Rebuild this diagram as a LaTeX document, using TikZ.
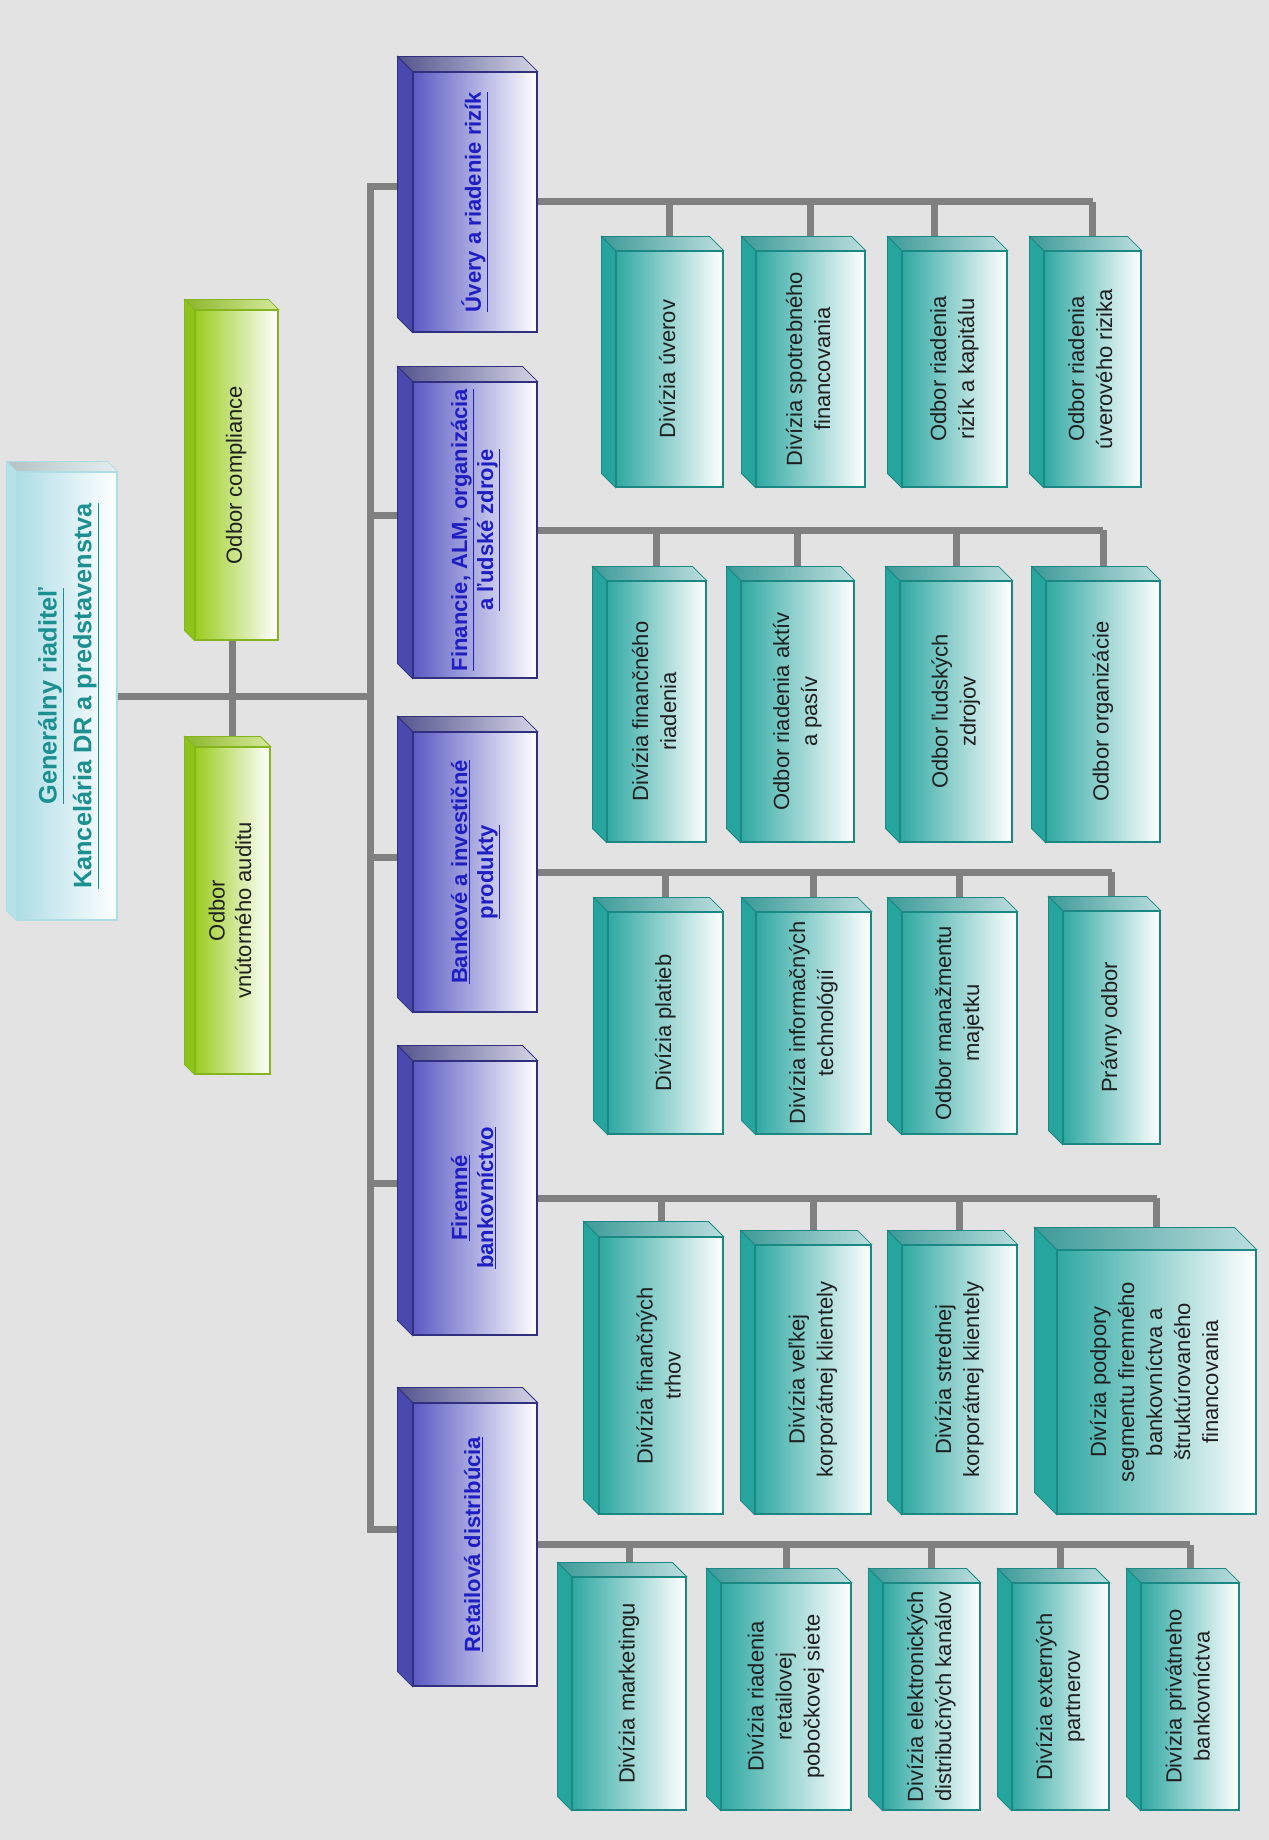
\documentclass[tikz,border=0pt]{standalone}
\usepackage{fontspec}
\setmainfont{Liberation Sans}
\usepackage{graphicx}
\usetikzlibrary{calc}
\pgfdeclarelayer{background}
\pgfsetlayers{background,main}

\definecolor{bgGray}{HTML}{E3E3E3}
\definecolor{lineGray}{HTML}{808080}
\definecolor{blueL}{HTML}{5A5AC4}
\definecolor{blueSide}{HTML}{4A4AAE}
\definecolor{blueTopL}{HTML}{54548E}
\definecolor{blueTopR}{HTML}{D4D4E6}
\definecolor{blueEdge}{HTML}{30307E}
\definecolor{blueTxt}{HTML}{1E1EC4}
\definecolor{tealL}{HTML}{2FA8A2}
\definecolor{tealSide}{HTML}{26A49E}
\definecolor{tealTopL}{HTML}{3C9A98}
\definecolor{tealTopR}{HTML}{BCDEDE}
\definecolor{tealEdge}{HTML}{1B8884}
\definecolor{greenL}{HTML}{9ACC1E}
\definecolor{greenSide}{HTML}{8EC41A}
\definecolor{greenTopL}{HTML}{8CB62A}
\definecolor{greenTopR}{HTML}{D6EA9C}
\definecolor{greenEdge}{HTML}{86B41C}
\definecolor{titleL}{HTML}{AEDDE6}
\definecolor{titleSide}{HTML}{B6E2EA}
\definecolor{titleTopL}{HTML}{B4C2C4}
\definecolor{titleTopR}{HTML}{E6EEEE}
\definecolor{titleTxt}{HTML}{1C9090}
\definecolor{textDark}{HTML}{202020}

% rotated label, lines separated by \\
\newcommand{\vtext}[1]{\rotatebox{90}{\begin{tabular}{@{}c@{}}#1\end{tabular}}}
% depth faces of a box: node, depth, top face left/right colour, side colour, edge colour
\newcommand{\sides}[6]{%
  \path[draw=#6, line width=0.6pt, left color=#3, right color=#4] (#1.north west) -- ++(-#2,-#2) -- ($(#1.north east)+(-#2,-#2)$) -- (#1.north east) -- cycle;
  \path[draw=#6, line width=0.6pt, fill=#5] (#1.north west) -- ++(-#2,-#2) -- ($(#1.south west)+(-#2,-#2)$) -- (#1.south west) -- cycle;}

\tikzset{
  facebox/.style={rectangle, inner sep=0pt, draw=#1, line width=0.8pt},
  titlebox/.style={facebox=titleL, left color=titleL, right color=white, text=titleTxt, font=\fontsize{19}{26}\selectfont\bfseries},
  greenbox/.style={facebox=greenEdge, left color=greenL, right color=white, text=textDark, font=\fontsize{16.5}{20}\selectfont},
  bluebox/.style={facebox=blueEdge, left color=blueL, right color=white, text=blueTxt, font=\fontsize{16.5}{19.5}\selectfont\bfseries},
  tealbox/.style={facebox=tealEdge, left color=tealL, right color=white, text=textDark, font=\fontsize{16.5}{21}\selectfont},
  conn/.style={draw=lineGray, line width=5.25pt}
}

\begin{document}
\begin{tikzpicture}[x=0.75pt,y=0.75pt,yscale=-1,xscale=1]
\useasboundingbox (0,0) rectangle (1269,1840);

% Title and staff boxes
\node[titlebox, minimum width=75pt, minimum height=336pt] (title) at (67,696) {\vtext{\underline{Generálny riaditeľ}\\\underline{Kancelária DR a predstavenstva}}};
\node[greenbox, minimum width=62.25pt, minimum height=247.5pt] (comp) at (236.5,475) {\vtext{Odbor compliance}};
\node[greenbox, minimum width=56.25pt, minimum height=245.25pt] (audit) at (232.5,910.5) {\vtext{Odbor\\vnútorného auditu}};
\sides{title}{10}{titleTopL}{titleTopR}{titleSide}{titleL}
\sides{comp}{10}{greenTopL}{greenTopR}{greenSide}{greenEdge}
\sides{audit}{10}{greenTopL}{greenTopR}{greenSide}{greenEdge}

% Blue boxes
\node[bluebox, minimum width=93pt, minimum height=195pt] (bl1) at (475,202) {\vtext{\underline{Úvery a riadenie rizík}}};
\node[bluebox, minimum width=93pt, minimum height=222pt] (bl2) at (475,530) {\vtext{\underline{Financie, ALM, organizácia}\\\underline{a ľudské zdroje}}};
\node[bluebox, minimum width=93pt, minimum height=210pt] (bl3) at (475,872) {\vtext{\underline{Bankové a investičné}\\\underline{produkty}}};
\node[bluebox, minimum width=93pt, minimum height=205.5pt] (bl4) at (475,1198) {\vtext{\underline{Firemné}\\\underline{bankovníctvo}}};
\node[bluebox, minimum width=93pt, minimum height=212.25pt] (bl5) at (475,1544.5) {\vtext{\underline{Retailová distribúcia}}};
\foreach \i in {1,...,5} {\sides{bl\i}{15}{blueTopL}{blueTopR}{blueSide}{blueEdge}}

% Teal boxes, row 1
\node[tealbox, minimum width=80.25pt, minimum height=177pt] (t11) at (669.5,369) {\vtext{Divízia úverov}};
\node[tealbox, minimum width=81.75pt, minimum height=177pt] (t12) at (810.5,369) {\vtext{Divízia spotrebného\\financovania}};
\node[tealbox, minimum width=78.75pt, minimum height=177pt] (t13) at (954.5,369) {\vtext{Odbor riadenia\\rizík a kapitálu}};
\node[tealbox, minimum width=72.75pt, minimum height=177pt] (t14) at (1092.5,369) {\vtext{Odbor riadenia\\úverového rizika}};
% row 2
\node[tealbox, minimum width=74.25pt, minimum height=195.75pt] (t21) at (656.5,711.5) {\vtext{Divízia finančného\\riadenia}};
\node[tealbox, minimum width=84.75pt, minimum height=195.75pt] (t22) at (797.5,711.5) {\vtext{Odbor riadenia aktív\\a pasív}};
\node[tealbox, minimum width=84pt, minimum height=195.75pt] (t23) at (956,711.5) {\vtext{Odbor ľudských\\zdrojov}};
\node[tealbox, minimum width=85.5pt, minimum height=195.75pt] (t24) at (1103,711.5) {\vtext{Odbor organizácie}};
% row 3
\node[tealbox, minimum width=86.25pt, minimum height=166.5pt] (t31) at (665.5,1023) {\vtext{Divízia platieb}};
\node[tealbox, minimum width=86.25pt, minimum height=166.5pt] (t32) at (813.5,1023) {\vtext{Divízia informačných\\technológií}};
\node[tealbox, minimum width=86.25pt, minimum height=166.5pt] (t33) at (959.5,1023) {\vtext{Odbor manažmentu\\majetku}};
\node[tealbox, minimum width=72.75pt, minimum height=174.75pt] (t34) at (1111.5,1027.5) {\vtext{Právny odbor}};
% row 4
\node[tealbox, minimum width=93pt, minimum height=207.75pt] (t41) at (661,1375.5) {\vtext{Divízia finančných\\trhov}};
\node[tealbox, minimum width=87pt, minimum height=201.75pt] (t42) at (813,1379.5) {\vtext{Divízia veľkej\\korporátnej klientely}};
\node[tealbox, minimum width=86.25pt, minimum height=201.75pt] (t43) at (959.5,1379.5) {\vtext{Divízia strednej\\korporátnej klientely}};
\node[tealbox, minimum width=149.25pt, minimum height=198pt] (t44) at (1156.5,1382) {\vtext{Divízia podpory\\segmentu firemného\\bankovníctva a\\štruktúrovaného\\financovania}};
% row 5
\node[tealbox, minimum width=85.5pt, minimum height=174.75pt] (t51) at (629,1693.5) {\vtext{Divízia marketingu}};
\node[tealbox, minimum width=97.5pt, minimum height=170.25pt] (t52) at (786,1696.5) {\vtext{Divízia riadenia\\retailovej\\pobočkovej siete}};
\node[tealbox, minimum width=72.75pt, minimum height=170.25pt] (t53) at (931.5,1696.5) {\vtext{Divízia elektronických\\distribučných kanálov}};
\node[tealbox, minimum width=72.75pt, minimum height=170.25pt] (t54) at (1060.5,1696.5) {\vtext{Divízia externých\\partnerov}};
\node[tealbox, minimum width=73.5pt, minimum height=170.25pt] (t55) at (1190,1696.5) {\vtext{Divízia privátneho\\bankovníctva}};
\foreach \t in {t11,t12,t13,t14,t21,t22,t23,t24,t31,t32,t33,t34,t42,t43,t51,t52,t53,t54,t55} {\sides{\t}{14}{tealTopL}{tealTopR}{tealSide}{tealEdge}}
\sides{t41}{15}{tealTopL}{tealTopR}{tealSide}{tealEdge}
\sides{t44}{22}{tealTopL}{tealTopR}{tealSide}{tealEdge}

\begin{pgfonlayer}{background}
\fill[bgGray] (0,0) rectangle (1269,1840);
\coordinate (trunk) at (370,0);
%Straight Lines, trunk and stubs
\draw[conn] (title.east) -- (title.east -| trunk);
\draw[conn] (comp.south -| audit.north) -- (audit.north);
\path ($(bl1.west)+(0,-15)$) coordinate (s1) ($(bl5.west)+(0,-15)$) coordinate (s5);
\draw[conn] (s1) -- (s1 -| trunk) -- (s5 -| trunk) -- (s5);
\foreach \i in {2,3,4} {\draw[conn] (bl\i.west) ++(0,-15) coordinate (st) -- (st -| trunk);}
%Straight Lines, rows
\path ([xshift=-15pt]t13.north) coordinate (t13in);
\draw[conn] (bl1.east) -- (bl1.east -| t14.north);
\foreach \t in {t11,t12,t14} {\draw[conn] (bl1.east -| \t.north) -- (\t.north);}
\draw[conn] (bl1.east -| t13in) -- (t13in);
\draw[conn] (bl2.east) -- (bl2.east -| t24.north);
\foreach \t in {t21,t22,t23,t24} {\draw[conn] (bl2.east -| \t.north) -- (\t.north);}
\draw[conn] (bl3.east) -- (bl3.east -| t34.north);
\foreach \t in {t31,t32,t33,t34} {\draw[conn] (bl3.east -| \t.north) -- (\t.north);}
\draw[conn] (bl4.east) -- (bl4.east -| t44.north);
\foreach \t in {t41,t42,t43,t44} {\draw[conn] (bl4.east -| \t.north) -- (\t.north);}
\draw[conn] (bl5.east) -- (bl5.east -| t55.north);
\foreach \t in {t51,t52,t53,t54,t55} {\draw[conn] (bl5.east -| \t.north) -- (\t.north);}
\end{pgfonlayer}
\end{tikzpicture}
\end{document}
